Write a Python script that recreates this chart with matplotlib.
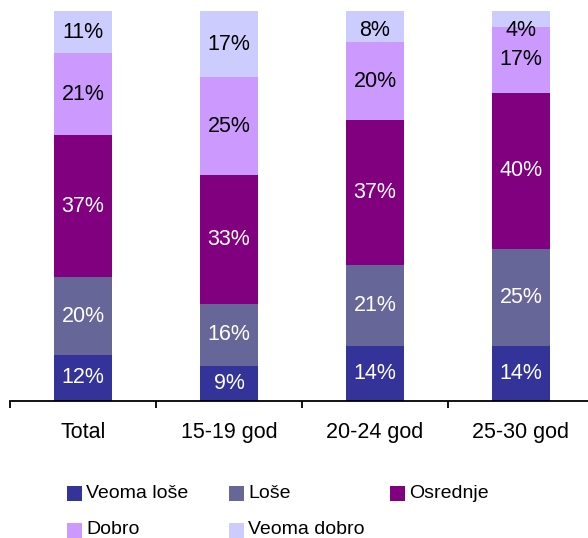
import numpy as np
import matplotlib
matplotlib.use('Agg')
import matplotlib.pyplot as plt
from matplotlib.patches import Rectangle

plt.rcParams['font.family'] = ['Liberation Sans', 'DejaVu Sans']

# Data (percent shares per group)
groups = ['Total', '15-19 god', '20-24 god', '25-30 god']
series = ['Veoma loše', 'Loše', 'Osrednje', 'Dobro', 'Veoma dobro']
veoma_lose = [12, 9, 14, 14]
lose = [20, 16, 21, 25]
osrednje = [37, 33, 37, 40]
dobro = [21, 25, 20, 17]
veoma_dobro = [11, 17, 8, 4]

colors = ['#333399', '#666699', '#800080', '#CC99FF', '#CCCCFF']
text_colors = ['white', 'white', 'white', 'black', 'black']

values = np.array([veoma_lose, lose, osrednje, dobro, veoma_dobro], dtype=float)
# stack each bar to 100%
shares = values / values.sum(axis=0) * 100

W, H = 588, 538
fig = plt.figure(figsize=(W / 100, H / 100), dpi=100)
ax = fig.add_axes([10 / W, (H - 401) / H, 584 / W, 390 / H])

x = np.arange(len(groups))
bottom = np.zeros(len(groups))
for i, name in enumerate(series):
    ax.bar(x, shares[i], bottom=bottom, width=0.4, color=colors[i], edgecolor='none')
    for j in range(len(groups)):
        yc = min(bottom[j] + shares[i][j] / 2, 95)
        ax.text(x[j], yc, f'{int(values[i][j])}%', ha='center', va='center',
                fontsize=15.5, color=text_colors[i])
    bottom += shares[i]

ax.set_xlim(-0.5, len(groups) - 0.5)
ax.set_ylim(0, 100)
for s in ['top', 'right', 'left']:
    ax.spines[s].set_visible(False)
ax.spines['bottom'].set_linewidth(1.3)
ax.set_yticks([])
ax.set_xticks(x)
ax.set_xticklabels(groups, fontsize=15.5)
ax.tick_params(axis='x', which='major', length=0, pad=15)
ax.set_xticks(np.arange(len(groups) + 1) - 0.5, minor=True)
ax.tick_params(axis='x', which='minor', length=5, width=1.3, direction='out')

# legend laid out in rows like the original
col_x = [67, 229, 390]
row_y = [493, 530]
for k, name in enumerate(series):
    r, c = divmod(k, 3)
    px, py = col_x[c], row_y[r]
    fig.patches.append(Rectangle((px / W, (H - py - 7.5) / H), 15 / W, 15 / H,
                                 transform=fig.transFigure, facecolor=colors[k],
                                 edgecolor='none'))
    fig.text((px + 19) / W, (H - py) / H, name, ha='left', va='center', fontsize=14)

fig.savefig('out.png', dpi=100)
